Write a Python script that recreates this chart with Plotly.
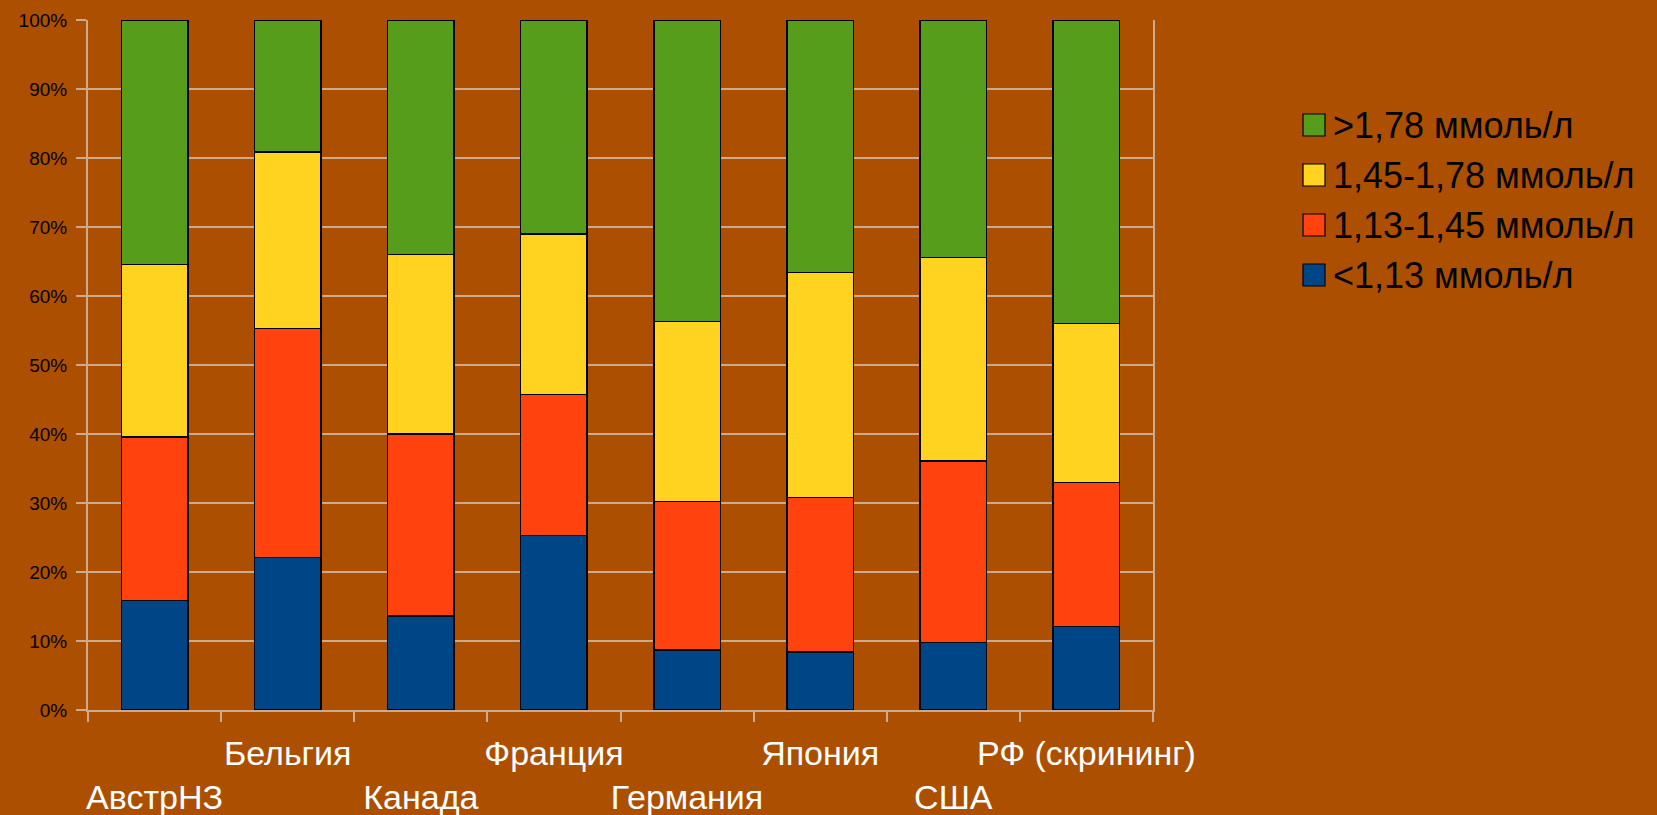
import plotly.graph_objects as go

categories = ["АвстрНЗ", "Бельгия", "Канада", "Франция", "Германия", "Япония", "США", "РФ (скрининг)"]
series_names = ["<1,13 ммоль/л", "1,13-1,45 ммоль/л", "1,45-1,78 ммоль/л", ">1,78 ммоль/л"]
below_113 = [15.9, 22.1, 13.6, 25.3, 8.7, 8.4, 9.8, 12.1]
from_113_to_145 = [23.7, 33.2, 26.4, 20.4, 21.5, 22.4, 26.3, 20.9]
from_145_to_178 = [25.0, 25.6, 26.0, 23.3, 26.1, 32.6, 29.5, 23.0]
above_178 = [35.4, 19.1, 34.0, 31.0, 43.7, 36.6, 34.4, 44.0]
y_tick_values = [0, 10, 20, 30, 40, 50, 60, 70, 80, 90, 100]
y_tick_labels = [f"{v}%" for v in y_tick_values]

colors = ["#004586", "#FF420E", "#FFD320", "#579D1C"]
series_values = [below_113, from_113_to_145, from_145_to_178, above_178]

W, H = 1657, 815
L, R, T, B = 88, 504, 20, 105
plot_w = W - L - R
plot_h = H - T - B


def px_x(px):
    return (px - L) / plot_w


def px_y(py):
    return (H - B - py) / plot_h


# staggered category labels: even index on the lower row
tick_text = [("<br>" + c) if i % 2 == 0 else c for i, c in enumerate(categories)]

fig = go.Figure()
for name, vals, col in zip(series_names, series_values, colors):
    fig.add_trace(go.Bar(
        x=categories, y=vals, name=name,
        marker=dict(color=col, line=dict(color="black", width=1.5)),
        width=0.5, showlegend=False,
    ))

# legend drawn as boxes + labels (top: last series)
shapes = []
annotations = []
row_centers = [125, 175, 225, 275]
for k, idx in enumerate(reversed(range(len(series_names)))):
    cy = row_centers[k]
    shapes.append(dict(
        type="rect", xref="paper", yref="paper",
        x0=px_x(1303), x1=px_x(1325), y0=px_y(cy + 11), y1=px_y(cy - 11),
        fillcolor=colors[idx], line=dict(color="black", width=1.2),
    ))
    annotations.append(dict(
        xref="paper", yref="paper", x=px_x(1331), y=px_y(cy),
        xanchor="left", yanchor="middle", showarrow=False,
        text=series_names[idx].replace("<", "&lt;").replace(">", "&gt;"),
        font=dict(size=36, color="black"),
    ))

grid_col = "rgba(215,200,185,0.75)"
fig.update_layout(
    barmode="stack",
    width=W, height=H,
    margin=dict(l=L, r=R, t=T, b=B, autoexpand=False),
    paper_bgcolor="#AD4F00",
    plot_bgcolor="rgba(0,0,0,0)",
    font=dict(family="Liberation Sans, Arial, sans-serif", color="black"),
    showlegend=False,
    shapes=shapes,
    annotations=annotations,
)
fig.update_xaxes(
    type="category",
    tickvals=categories, ticktext=tick_text,
    tickangle=0,
    tickfont=dict(size=34, color="white"),
    ticks="outside", tickson="boundaries", ticklen=10, tickcolor=grid_col, tickwidth=2,
    showline=True, linecolor=grid_col, linewidth=2,
    showgrid=False,
    ticklabelstandoff=12,
    automargin=False,
    range=[-0.5, 7.5],
)
fig.update_yaxes(
    range=[0, 100],
    tickvals=y_tick_values, ticktext=y_tick_labels,
    tickfont=dict(size=19, color="black"),
    ticks="outside", ticklen=10, tickcolor=grid_col, tickwidth=2,
    ticklabelstandoff=5,
    automargin=False,
    showgrid=True, gridcolor=grid_col, gridwidth=2,
    showline=True, linecolor=grid_col, linewidth=2, mirror=True,
    zeroline=False,
)

fig.write_html(
    "out.html",
    config={"displayModeBar": False},
    post_script="document.body.style.margin='0';document.body.style.overflow='hidden';",
)
